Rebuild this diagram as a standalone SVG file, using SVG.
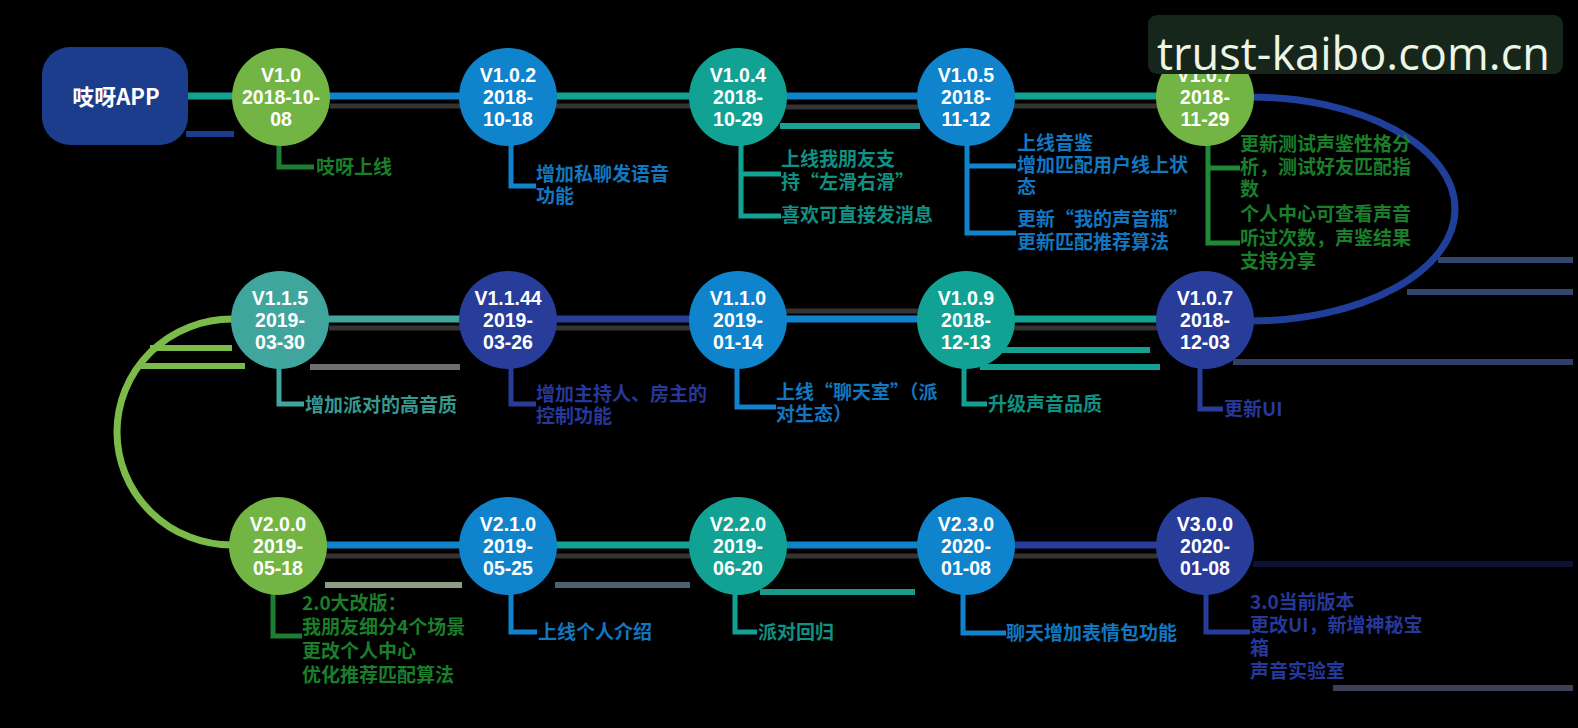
<svg xmlns="http://www.w3.org/2000/svg" width="1578" height="728" viewBox="0 0 1578 728">
<style>
.nt{font-family:"Liberation Sans",Arial,sans-serif;font-weight:700;font-size:19.5px;fill:#ffffff;text-anchor:middle}
.d{font-family:"Noto Sans CJK SC","Noto Sans",sans-serif;font-size:19px;font-weight:700}
.ln{fill:none;stroke-width:7;stroke-linecap:round}
.sh{fill:none;stroke-width:5;stroke:#343434}
.br{fill:none;stroke-width:5}
.ex{fill:none;stroke-width:6}
.g{fill:#72b544}.b{fill:#0f83cc}.t{fill:#12a294}.t2{fill:#3fa59d}.n{fill:#283c9a}
.dg{fill:#1a7e2a}.db{fill:#1277c0}.dt{fill:#119084}.dt2{fill:#379890}.dn{fill:#26389a}
</style>
<rect width="1578" height="728" fill="#000000"/>
<g id="connectors">
<line class="sh" x1="330" y1="106" x2="460" y2="106"/>
<line class="sh" x1="556" y1="106" x2="690" y2="106"/>
<line class="sh" x1="786" y1="107" x2="918" y2="107"/>
<line class="sh" x1="1014" y1="106" x2="1157" y2="106"/>
<line class="sh" x1="329" y1="328" x2="460" y2="328"/>
<line class="sh" x1="556" y1="328" x2="690" y2="328"/>
<line class="sh" x1="786" y1="311" x2="918" y2="311"/>
<line class="sh" x1="1014" y1="328" x2="1157" y2="328"/>
<line class="sh" x1="326" y1="556" x2="460" y2="556"/>
<line class="sh" x1="556" y1="556" x2="690" y2="556"/>
<line class="sh" x1="786" y1="556" x2="918" y2="556"/>
<line class="sh" x1="1014" y1="556" x2="1157" y2="556"/>
<line class="ex" x1="186" y1="134" x2="234" y2="134" stroke="#1b3d8b"/>
<line class="ex" x1="780" y1="126" x2="920" y2="126" stroke="#1aa093"/>
<line class="ex" x1="1000" y1="350" x2="1150" y2="350" stroke="#14a093"/>
<line class="ex" x1="980" y1="367" x2="1160" y2="367" stroke="#14a093"/>
<line class="ex" x1="310" y1="367" x2="460" y2="367" stroke="#6f6f6f"/>
<line class="ex" x1="150" y1="348" x2="232" y2="348" stroke="#7cbb4a"/>
<line class="ex" x1="140" y1="366" x2="245" y2="366" stroke="#7cbb4a"/>
<line class="ex" x1="1438" y1="260" x2="1573" y2="260" stroke="#34466e"/>
<line class="ex" x1="1407" y1="292" x2="1573" y2="292" stroke="#34466e" stroke-width="8"/>
<line class="ex" x1="1233" y1="362" x2="1573" y2="362" stroke="#2f3f6a" stroke-width="11"/>
<line class="ex" x1="325" y1="585" x2="462" y2="585" stroke="#8e9c84"/>
<line class="ex" x1="555" y1="585" x2="690" y2="585" stroke="#4e6070"/>
<line class="ex" x1="760" y1="592" x2="915" y2="592" stroke="#1a9a8c"/>
<line class="ex" x1="1253" y1="564" x2="1573" y2="564" stroke="#0c1236" stroke-width="8"/>
<line class="ex" x1="1333" y1="688" x2="1573" y2="688" stroke="#3b4058" stroke-width="7"/>
<line class="ln" x1="186" y1="96" x2="240" y2="96" stroke="#12a294"/>
<line class="ln" x1="325" y1="96" x2="470" y2="96" stroke="#0f83cc"/>
<line class="ln" x1="550" y1="96" x2="700" y2="96" stroke="#12a294"/>
<line class="ln" x1="780" y1="96" x2="930" y2="96" stroke="#0f83cc"/>
<line class="ln" x1="1010" y1="96" x2="1165" y2="96" stroke="#12a294"/>
<path class="ln" d="M 1250 97 A 205 112 0 0 1 1250 321" stroke="#1f3f9b"/>
<path class="ln" d="M 232 319 A 115 113 0 0 0 232 545" stroke="#7cbb4a" stroke-width="6"/>
<line class="ln" x1="320" y1="319" x2="470" y2="319" stroke="#3fa59d"/>
<line class="ln" x1="550" y1="319" x2="700" y2="319" stroke="#283c9a"/>
<line class="ln" x1="780" y1="319" x2="930" y2="319" stroke="#0f83cc"/>
<line class="ln" x1="1010" y1="319" x2="1165" y2="319" stroke="#12a294"/>
<line class="ln" x1="320" y1="545" x2="470" y2="545" stroke="#0f83cc"/>
<line class="ln" x1="550" y1="545" x2="700" y2="545" stroke="#12a294"/>
<line class="ln" x1="780" y1="545" x2="930" y2="545" stroke="#0f83cc"/>
<line class="ln" x1="1010" y1="545" x2="1165" y2="545" stroke="#283c9a"/>
</g>
<g id="app">
<rect x="42" y="47" width="146" height="98" rx="28" fill="#1b3d8b"/>
<text x="116" y="105" font-family="Noto Sans CJK SC,sans-serif" font-weight="700" font-size="22" fill="#ffffff" text-anchor="middle">吱呀APP</text>
</g>
<g id="v100">
<polyline class="br" points="279,140 279,167 314,167" stroke="#1e7e34"/>
<circle class="g" cx="281" cy="97" r="49"/>
<text class="nt"><tspan x="281" y="82">V1.0</tspan><tspan x="281" y="104">2018-10-</tspan><tspan x="281" y="126">08</tspan></text>
<text class="d dg" x="316" y="174">吱呀上线</text>
</g>
<g id="v102">
<polyline class="br" points="511,140 511,186 536,186" stroke="#0f83cc"/>
<circle class="b" cx="508" cy="97" r="49"/>
<text class="nt"><tspan x="508" y="82">V1.0.2</tspan><tspan x="508" y="104">2018-</tspan><tspan x="508" y="126">10-18</tspan></text>
<text class="d db"><tspan x="536" y="181">增加私聊发语音</tspan><tspan x="536" y="203">功能</tspan></text>
</g>
<g id="v104">
<polyline class="br" points="741,140 741,216 781,216" stroke="#12a294"/>
<line class="br" x1="741" y1="174" x2="781" y2="174" stroke="#12a294"/>
<text class="d dt"><tspan x="781" y="166">上线我朋友支</tspan><tspan x="781" y="189">持“左滑右滑”</tspan><tspan x="781" y="222">喜欢可直接发消息</tspan></text>
<circle class="t" cx="738" cy="97" r="49"/>
<text class="nt"><tspan x="738" y="82">V1.0.4</tspan><tspan x="738" y="104">2018-</tspan><tspan x="738" y="126">10-29</tspan></text>
</g>
<g id="v105">
<polyline class="br" points="967,140 967,233 1016,233" stroke="#0f83cc"/>
<line class="br" x1="967" y1="166" x2="1016" y2="166" stroke="#0f83cc"/>
<circle class="b" cx="966" cy="97" r="49"/>
<text class="nt"><tspan x="966" y="82">V1.0.5</tspan><tspan x="966" y="104">2018-</tspan><tspan x="966" y="126">11-12</tspan></text>
<text class="d db"><tspan x="1017" y="150">上线音鉴</tspan><tspan x="1017" y="172">增加匹配用户线上状</tspan><tspan x="1017" y="194">态</tspan><tspan x="1017" y="226">更新“我的声音瓶”</tspan><tspan x="1017" y="249">更新匹配推荐算法</tspan></text>
</g>
<g id="v107a">
<polyline class="br" points="1208,140 1208,243 1240,243" stroke="#1e8a34"/>
<line class="br" x1="1208" y1="168" x2="1240" y2="168" stroke="#1e8a34"/>
<circle class="g" cx="1205" cy="97" r="49"/>
<text class="nt"><tspan x="1205" y="82">V1.0.7</tspan><tspan x="1205" y="104">2018-</tspan><tspan x="1205" y="126">11-29</tspan></text>
<text class="d dg"><tspan x="1240" y="151">更新测试声鉴性格分</tspan><tspan x="1240" y="174">析，测试好友匹配指</tspan><tspan x="1240" y="196">数</tspan><tspan x="1240" y="221">个人中心可查看声音</tspan><tspan x="1240" y="245">听过次数，声鉴结果</tspan><tspan x="1240" y="268">支持分享</tspan></text>
</g>
<g id="v107b">
<polyline class="br" points="1200,360 1200,409 1223,409" stroke="#283c9a"/>
<circle class="n" cx="1205" cy="320" r="49"/>
<text class="nt"><tspan x="1205" y="305">V1.0.7</tspan><tspan x="1205" y="327">2018-</tspan><tspan x="1205" y="349">12-03</tspan></text>
<text class="d dn" x="1224" y="416">更新UI</text>
</g>
<g id="v109">
<polyline class="br" points="964,360 964,404 987,404" stroke="#12a294"/>
<circle class="t" cx="966" cy="320" r="49"/>
<text class="nt"><tspan x="966" y="305">V1.0.9</tspan><tspan x="966" y="327">2018-</tspan><tspan x="966" y="349">12-13</tspan></text>
<text class="d dt" x="988" y="411">升级声音品质</text>
</g>
<g id="v110">
<polyline class="br" points="737,360 737,407 776,407" stroke="#0f83cc"/>
<circle class="b" cx="738" cy="320" r="49"/>
<text class="nt"><tspan x="738" y="305">V1.1.0</tspan><tspan x="738" y="327">2019-</tspan><tspan x="738" y="349">01-14</tspan></text>
<text class="d db"><tspan x="776" y="399">上线“聊天室”（派</tspan><tspan x="776" y="421">对生态）</tspan></text>
</g>
<g id="v1144">
<polyline class="br" points="511,360 511,404 536,404" stroke="#283c9a"/>
<circle class="n" cx="508" cy="320" r="49"/>
<text class="nt"><tspan x="508" y="305">V1.1.44</tspan><tspan x="508" y="327">2019-</tspan><tspan x="508" y="349">03-26</tspan></text>
<text class="d dn"><tspan x="536" y="401">增加主持人、房主的</tspan><tspan x="536" y="423">控制功能</tspan></text>
</g>
<g id="v115">
<polyline class="br" points="279,360 279,404 304,404" stroke="#3fa59d"/>
<circle class="t2" cx="280" cy="320" r="49"/>
<text class="nt"><tspan x="280" y="305">V1.1.5</tspan><tspan x="280" y="327">2019-</tspan><tspan x="280" y="349">03-30</tspan></text>
<text class="d dt2" x="305" y="412">增加派对的高音质</text>
</g>
<g id="v200">
<polyline class="br" points="273,586 273,636 302,636" stroke="#1e7e34"/>
<circle class="g" cx="278" cy="546" r="49"/>
<text class="nt"><tspan x="278" y="531">V2.0.0</tspan><tspan x="278" y="553">2019-</tspan><tspan x="278" y="575">05-18</tspan></text>
<text class="d dg"><tspan x="302" y="610">2.0大改版：</tspan><tspan x="302" y="634">我朋友细分4个场景</tspan><tspan x="302" y="658">更改个人中心</tspan><tspan x="302" y="682">优化推荐匹配算法</tspan></text>
</g>
<g id="v210">
<polyline class="br" points="511,586 511,632 537,632" stroke="#0f83cc"/>
<circle class="b" cx="508" cy="546" r="49"/>
<text class="nt"><tspan x="508" y="531">V2.1.0</tspan><tspan x="508" y="553">2019-</tspan><tspan x="508" y="575">05-25</tspan></text>
<text class="d db" x="538" y="639">上线个人介绍</text>
</g>
<g id="v220">
<polyline class="br" points="735,586 735,632 757,632" stroke="#12a294"/>
<circle class="t" cx="738" cy="546" r="49"/>
<text class="nt"><tspan x="738" y="531">V2.2.0</tspan><tspan x="738" y="553">2019-</tspan><tspan x="738" y="575">06-20</tspan></text>
<text class="d dt" x="758" y="639">派对回归</text>
</g>
<g id="v230">
<polyline class="br" points="963,586 963,633 1006,633" stroke="#0f83cc"/>
<circle class="b" cx="966" cy="546" r="49"/>
<text class="nt"><tspan x="966" y="531">V2.3.0</tspan><tspan x="966" y="553">2020-</tspan><tspan x="966" y="575">01-08</tspan></text>
<text class="d db" x="1006" y="640">聊天增加表情包功能</text>
</g>
<g id="v300">
<polyline class="br" points="1206,586 1206,632 1250,632" stroke="#283c9a"/>
<circle class="n" cx="1205" cy="546" r="49"/>
<text class="nt"><tspan x="1205" y="531">V3.0.0</tspan><tspan x="1205" y="553">2020-</tspan><tspan x="1205" y="575">01-08</tspan></text>
<text class="d dn"><tspan x="1250" y="609">3.0当前版本</tspan><tspan x="1250" y="632">更改UI，新增神秘宝</tspan><tspan x="1250" y="655">箱</tspan><tspan x="1250" y="678">声音实验室</tspan></text>
</g>
<g id="watermark">
<rect x="1148" y="15" width="415" height="59" rx="9" fill="#16261a"/>
<text x="1157" y="70" font-family="Open Sans,Noto Sans,sans-serif" font-size="45" fill="#eef5e6" textLength="393" lengthAdjust="spacingAndGlyphs">trust-kaibo.com.cn</text>
</g>
</svg>
